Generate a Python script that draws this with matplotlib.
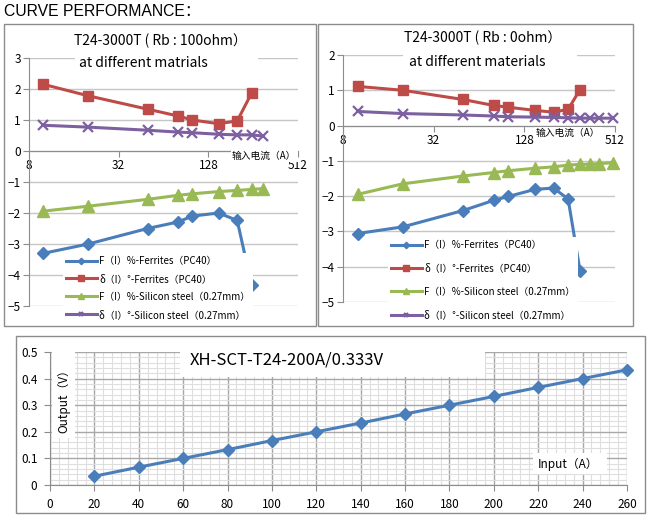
import matplotlib
matplotlib.use('Agg')
import matplotlib.pyplot as plt
from matplotlib.patches import Rectangle
from matplotlib.ticker import MultipleLocator, FixedLocator

W, H = 653, 517
plt.rcParams['font.family'] = ['Noto Sans CJK SC', 'DejaVu Sans']

# ---- data ----
# upper charts: input current (A), log2 axis
x_left = [10, 20, 50, 80, 100, 150, 200, 250, 300]
left_F_ferrite = [-3.30, -3.00, -2.50, -2.29, -2.10, -2.00, -2.24, -4.33]
left_d_ferrite = [2.15, 1.78, 1.35, 1.13, 1.00, 0.88, 0.97, 1.87]
left_F_silicon = [-1.94, -1.78, -1.56, -1.43, -1.38, -1.31, -1.27, -1.24, -1.21]
left_d_silicon = [0.83, 0.77, 0.67, 0.61, 0.59, 0.54, 0.52, 0.52, 0.48]

x_right = [10, 20, 50, 80, 100, 150, 200, 250, 300, 350, 400, 500]
right_F_ferrite = [-3.06, -2.87, -2.41, -2.12, -2.01, -1.81, -1.77, -2.08, -4.12]
right_d_ferrite = [1.11, 1.00, 0.74, 0.57, 0.52, 0.43, 0.38, 0.46, 1.02]
right_F_silicon = [-1.95, -1.65, -1.43, -1.33, -1.28, -1.21, -1.17, -1.12, -1.10, -1.09, -1.08, -1.05]
right_d_silicon = [0.40, 0.34, 0.30, 0.27, 0.25, 0.24, 0.23, 0.22, 0.21, 0.21, 0.21, 0.21]

log_ticks = [8, 32, 128, 512]

series_labels = ['F（I）%-Ferrites（PC40）',
                 'δ（I）°-Ferrites（PC40）',
                 'F（I）%-Silicon steel（0.27mm）',
                 'δ（I）°-Silicon steel（0.27mm）']

# lower chart: input (A) vs output (V)
input_a = [20, 40, 60, 80, 100, 120, 140, 160, 180, 200, 220, 240, 260]
output_v = [0.033, 0.067, 0.100, 0.133, 0.167, 0.200, 0.233, 0.267, 0.300,
            0.333, 0.367, 0.400, 0.433]
out_ticks = [0, 0.1, 0.2, 0.3, 0.4, 0.5]
out_labels = ['0', '0.1', '0.2', '0.3', '0.4', '0.5']

BLUE = '#4a7ebb'
RED = '#be4b48'
GREEN = '#98b954'
PURPLE = '#7d60a0'
GRID = '#c6c6c6'
AXIS = '#8c8c8c'


def fx(px):
    return px / W


def fy(py):
    return 1 - py / H


def px_axes(fig, x0, y0, x1, y1):
    return fig.add_axes([fx(x0), fy(y1), (x1 - x0) / W, (y1 - y0) / H])


def rect(fig, x0, y0, x1, y1, **kw):
    r = Rectangle((fx(x0), fy(y1)), (x1 - x0) / W, (y1 - y0) / H,
                  transform=fig.transFigure, **kw)
    fig.patches.append(r)


def top_chart(fig, box, ylim, xs, data, title1, title2, tbox, tpos1, tpos2,
              lbox, lspacing, xlab_pos):
    ax = px_axes(fig, *box)
    ax.set_xscale('log', base=2)
    ax.set_xlim(8, 512)
    ax.set_ylim(*ylim)
    ax.xaxis.set_major_locator(FixedLocator(log_ticks))
    ax.set_xticklabels([str(t) for t in log_ticks])
    ax.minorticks_off()
    ax.set_yticks(range(ylim[0], ylim[1] + 1))
    for s in ['top', 'right']:
        ax.spines[s].set_visible(False)
    ax.spines['bottom'].set_position(('data', 0))
    for s in ['bottom', 'left']:
        ax.spines[s].set_color(AXIS)
    ax.yaxis.grid(True, color=GRID, lw=1)
    ax.set_axisbelow(True)
    ax.tick_params(labelsize=8.5, color=AXIS, length=4, pad=2)
    ax.set_facecolor('none')

    styles = [(BLUE, 'D', 6.5, 1), (RED, 's', 7.5, 1), (GREEN, '^', 8.5, 1),
              (PURPLE, 'x', 7, 1.6)]
    for (ys, (c, m, ms, mew), lab) in zip(data, styles, series_labels):
        ax.plot(xs[:len(ys)], ys, color=c, lw=2.2, marker=m, ms=ms, mew=mew,
                label=lab, clip_on=False, zorder=3)

    ax.legend(loc='upper left', bbox_to_anchor=(fx(lbox[0]), fy(lbox[1])),
              bbox_transform=fig.transFigure, fancybox=False,
              edgecolor='none', facecolor='white', framealpha=1, fontsize=7,
              handlelength=3.2, handletextpad=0.2, labelspacing=lspacing,
              borderpad=0.3, borderaxespad=0, markerscale=0.5)

    rect(fig, *tbox, facecolor='white', edgecolor='none', zorder=1)
    fig.text(fx(tpos1[0]), fy(tpos1[1]), title1, ha='center', va='center',
             fontsize=10)
    fig.text(fx(tpos2[0]), fy(tpos2[1]), title2, ha='left', va='center',
             fontsize=10)
    fig.text(fx(xlab_pos[0]), fy(xlab_pos[1]), '输入电流（A）', ha='left',
             va='center', fontsize=7,
             bbox=dict(facecolor='white', edgecolor='none', pad=1))
    return ax


fig = plt.figure(figsize=(W / 100, H / 100), dpi=100)
fig.patch.set_facecolor('white')

fig.text(fx(4), fy(11), 'CURVE PERFORMANCE：', ha='left', va='center',
         fontsize=11.3, family=['Liberation Sans', 'Noto Sans CJK SC'])

# panel frames
rect(fig, 4, 24, 316, 326, fill=False, edgecolor=AXIS, lw=1, zorder=6)
rect(fig, 318, 24, 633, 326, fill=False, edgecolor=AXIS, lw=1, zorder=6)
rect(fig, 16, 336, 645, 513, fill=False, edgecolor=AXIS, lw=1, zorder=6)

top_chart(fig, (29, 58, 298, 306), (-5, 3), x_left,
          [left_F_ferrite, left_d_ferrite, left_F_silicon, left_d_silicon],
          'T24-3000T ( Rb : 100ohm）', 'at different matrials',
          (75, 28, 258, 76), (160, 41), (79, 63), (63, 253), 0.82, (232, 156))

top_chart(fig, (343, 55, 615, 302), (-5, 2), x_right,
          [right_F_ferrite, right_d_ferrite, right_F_silicon, right_d_silicon],
          'T24-3000T ( Rb : 0ohm）', 'at different materials',
          (403, 28, 577, 72), (483, 38), (409, 62), (388, 237), 1.38, (536, 133))

# ---- lower chart ----
ax = px_axes(fig, 50, 352, 627, 485)
ax.set_xlim(0, 260)
ax.set_ylim(0, 0.5)
ax.xaxis.set_major_locator(MultipleLocator(20))
ax.xaxis.set_minor_locator(MultipleLocator(4))
ax.set_yticks(out_ticks, out_labels)
ax.yaxis.set_minor_locator(MultipleLocator(0.02))
ax.grid(True, which='major', color='#a8a8a8', lw=1)
ax.grid(True, which='minor', color='#dedede', lw=0.8)
ax.set_axisbelow(True)
for s in ['top', 'right']:
    ax.spines[s].set_visible(False)
for s in ['bottom', 'left']:
    ax.spines[s].set_color(AXIS)
ax.tick_params(which='major', labelsize=8.5, color=AXIS, length=4, pad=5)
ax.tick_params(which='minor', length=0)
ax.plot(input_a, output_v, color=BLUE, lw=2.2, marker='D', ms=6.5,
        clip_on=False, zorder=3)

rect(fig, 180, 352, 485, 377, facecolor='white', edgecolor='none', zorder=1)
fig.text(fx(190), fy(360), 'XH-SCT-T24-200A/0.333V', ha='left', va='center',
         fontsize=12)
rect(fig, 52, 352, 75, 438, facecolor='white', edgecolor='none', zorder=1)
fig.text(fx(64), fy(398), 'Output（V）', ha='center', va='center',
         rotation=90, fontsize=8.5)
rect(fig, 533, 453, 607, 474, facecolor='white', edgecolor='none', zorder=1)
fig.text(fx(538), fy(464), 'Input（A）', ha='left', va='center', fontsize=8.5)

fig.savefig('out.png', dpi=100)
